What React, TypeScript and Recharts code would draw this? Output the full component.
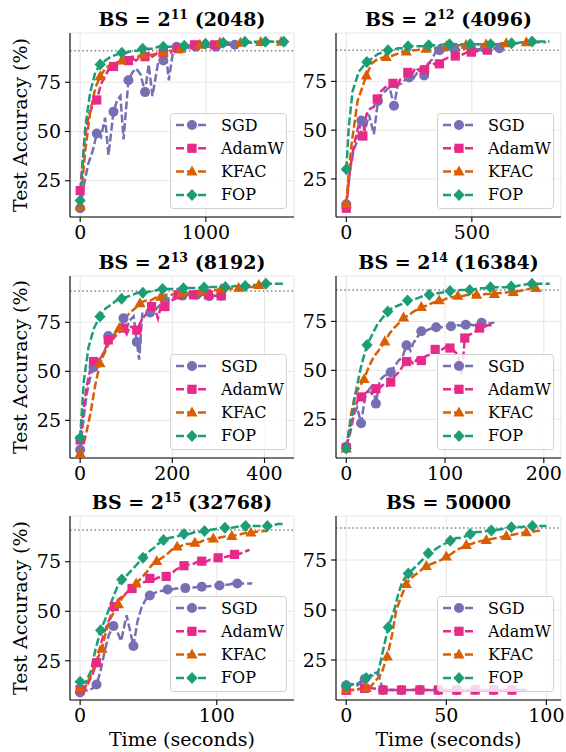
import {
  LineChart,
  Line,
  XAxis,
  YAxis,
  CartesianGrid,
  ReferenceLine,
  Legend,
} from 'recharts'

type Pt = [number, number]
type Method = 'SGD' | 'AdamW' | 'KFAC' | 'FOP'

const METHODS: Method[] = ['SGD', 'AdamW', 'KFAC', 'FOP']

const COLORS: Record<Method, string> = {
  SGD: '#7570b3',
  AdamW: '#e7298a',
  KFAC: '#d95f02',
  FOP: '#1b9e77',
}

const SHAPES: Record<Method, string> = {
  SGD: 'circle',
  AdamW: 'square',
  KFAC: 'triangle',
  FOP: 'diamond',
}

const TARGET_ACC = 91
const MARK_EVERY = 4
const Y_TICKS = [25, 50, 75]
const FONT = '"DejaVu Serif", "Liberation Serif", serif'

// ---- BS = 2^11 (2048) ----
const sgd2048: Pt[] = [
  [0, 11], [33, 24], [66, 34], [99, 40],
  [132, 49], [165, 47], [198, 57], [225, 38],
  [265, 60], [295, 66], [320, 68], [345, 46],
  [384, 76], [415, 80], [445, 82], [480, 79],
  [516, 70], [545, 84], [575, 68], [620, 85],
  [661, 86], [690, 85], [705, 76], [735, 89],
  [767, 93], [800, 92], [840, 93], [880, 92],
  [920, 93], [960, 92], [1000, 93], [1040, 93],
  [1080, 93], [1120, 93], [1160, 94], [1200, 94], [1230, 94],
]
const adamw2048: Pt[] = [
  [0, 20], [33, 45], [66, 58], [99, 63],
  [132, 66], [165, 74], [198, 78], [230, 82],
  [265, 83], [295, 84], [320, 86], [350, 85],
  [384, 86], [415, 87], [445, 86], [480, 88],
  [516, 88], [545, 89], [575, 88], [620, 90],
  [661, 90], [690, 91], [720, 90], [750, 92],
  [780, 92], [810, 93], [840, 93], [870, 94],
  [910, 94], [950, 93.5], [990, 94], [1030, 94],
  [1070, 94], [1110, 94.5], [1150, 94.5], [1190, 94.5],
]
const kfac2048: Pt[] = [
  [0, 12], [40, 40], [80, 60], [120, 72],
  [159, 78], [200, 82], [240, 84], [290, 85],
  [331, 86], [370, 87], [410, 88], [455, 88],
  [497, 89], [540, 89], [580, 89], [620, 90],
  [661, 90], [700, 91], [740, 91], [770, 91],
  [800, 92], [840, 93], [880, 93], [915, 93],
  [952, 94], [990, 94], [1030, 94], [1070, 94],
  [1111, 95], [1150, 95], [1190, 95], [1235, 95],
  [1275, 95], [1315, 95], [1355, 95], [1395, 95],
  [1437, 95.4], [1480, 95.5], [1520, 95.5], [1560, 95.5], [1600, 95.5],
]
const fop2048: Pt[] = [
  [0, 15], [40, 52], [80, 70], [120, 80],
  [159, 84], [200, 86], [245, 88], [290, 89],
  [331, 90], [370, 90], [415, 91], [455, 91],
  [497, 92], [540, 92], [580, 92], [620, 93],
  [661, 93], [700, 93], [745, 93], [785, 93],
  [828, 93.5], [870, 93.5], [910, 94], [955, 94],
  [997, 94.5], [1030, 94.5], [1070, 94.5], [1105, 95],
  [1138, 95], [1180, 95], [1225, 95], [1270, 95],
  [1310, 95.5], [1350, 95.5], [1390, 95.5], [1430, 95.5],
  [1474, 95.5], [1510, 95.5], [1550, 95.5], [1590, 95.5], [1620, 95.5],
]

// ---- BS = 2^12 (4096) ----
const sgd4096: Pt[] = [
  [0, 12], [15, 30], [30, 40], [45, 45],
  [60, 55], [75, 50], [90, 58], [110, 48],
  [126, 65], [140, 68], [155, 70], [172, 72],
  [190, 62.5], [205, 73], [220, 74], [235, 76],
  [250, 77], [265, 76], [280, 79], [295, 82],
  [310, 78], [325, 84], [340, 86], [355, 90],
  [371, 91], [386, 91], [401, 91], [416, 91.5],
  [431, 91.5], [446, 91], [461, 91.5], [476, 92],
  [497, 92], [506, 91], [521, 91.5], [536, 91.5],
  [551, 92], [566, 91], [581, 92], [596, 92], [610, 92],
]
const adamw4096: Pt[] = [
  [0, 10], [15, 30], [30, 42], [48, 52],
  [66, 47], [80, 58], [95, 61], [110, 62],
  [123, 66], [138, 70], [155, 72], [170, 73],
  [186, 74], [200, 72], [215, 76], [230, 77],
  [245, 79.6], [260, 78], [275, 82], [295, 80],
  [312, 81], [327, 84], [342, 85], [357, 83],
  [371, 84], [387, 86], [402, 87], [418, 87],
  [434, 88], [450, 88], [466, 89], [482, 90],
  [498, 90], [514, 90], [530, 91], [546, 91],
  [562, 91], [578, 91.5], [594, 92], [605, 92],
]
const kfac4096: Pt[] = [
  [0, 12], [10, 28], [20, 42], [45, 65],
  [80, 78], [100, 84], [120, 86], [140, 87],
  [159, 87.5], [180, 88], [200, 89], [220, 90],
  [239, 90.3], [259, 91], [279, 91], [298, 91.5],
  [318, 91.7], [338, 92], [358, 92], [378, 92.5],
  [398, 93], [418, 93], [438, 93.5], [458, 93.5],
  [477, 93.7], [497, 94], [517, 94], [537, 94],
  [557, 94], [577, 94], [597, 94], [617, 94.5],
  [637, 94.5], [657, 94.5], [677, 94.5], [697, 95],
  [717, 95], [737, 95], [757, 95], [796, 95],
]
const fop4096: Pt[] = [
  [0, 30], [10, 52], [25, 70], [50, 80],
  [82, 85], [105, 87], [125, 89], [145, 90],
  [166, 91], [186, 91], [206, 92], [226, 92],
  [246, 93], [266, 93], [287, 93], [308, 93],
  [328, 93.5], [349, 93.5], [370, 93.5], [390, 94],
  [411, 94], [432, 94], [452, 94], [472, 94],
  [493, 94], [514, 94], [534, 94], [555, 94],
  [575, 94], [596, 94], [617, 94], [637, 94.5],
  [658, 94.5], [678, 94.5], [699, 95], [719, 95],
  [740, 95.4], [760, 95.4], [780, 95.4], [809, 95.4],
]

// ---- BS = 2^13 (8192) ----
const sgd8192: Pt[] = [
  [0, 10], [7, 25], [14, 38], [21, 46],
  [29, 52], [37, 55], [45, 57], [53, 60],
  [61, 68], [69, 67], [77, 70], [85, 72],
  [94, 77], [101, 72], [108, 76], [116, 78],
  [123, 65], [128, 56], [135, 80], [145, 79],
  [152, 80], [159, 81], [166, 82], [174, 84],
  [184, 86], [191, 87], [198, 87], [206, 88],
  [222, 88.6], [229, 88.6], [237, 89], [245, 89],
  [253, 89], [261, 88.5], [268, 88.5], [275, 88.3],
  [280, 88.3], [287, 88.5], [294, 88.5], [300, 88.5], [306, 88.5],
]
const adamw8192: Pt[] = [
  [0, 15], [7, 30], [14, 42], [21, 50],
  [29, 55], [37, 56], [45, 57], [53, 60],
  [61, 66], [69, 66], [77, 68], [85, 70],
  [94, 72], [101, 69], [108, 73], [116, 72],
  [123, 71], [131, 75], [139, 78], [147, 80],
  [155, 83], [162, 82], [169, 77], [176, 84],
  [184, 83], [191, 85], [198, 86], [206, 87],
  [213, 89], [221, 88], [229, 89], [238, 89],
  [246, 89], [254, 89], [262, 89], [270, 89],
  [278, 89], [286, 88.5], [294, 88.5], [300, 88.5], [306, 88.5],
]
const kfac8192: Pt[] = [
  [0, 8], [10, 15], [22, 28], [32, 42],
  [43, 54], [54, 60], [64, 65], [75, 69],
  [85, 72], [97, 77], [108, 80], [119, 82],
  [130, 84.7], [141, 86], [152, 86], [163, 87.5],
  [175, 88], [187, 89], [198, 89], [210, 89.7],
  [221, 90], [232, 90], [242, 90.5], [253, 91],
  [264, 91], [275, 91], [285, 91.5], [296, 91.5],
  [306, 92], [317, 92], [325, 92], [333, 92.3],
  [344, 92.5], [355, 92.8], [366, 93], [376, 93], [388, 94],
]
const fop8192: Pt[] = [
  [0, 16], [8, 45], [18, 62], [30, 72],
  [43, 78], [55, 82], [67, 84], [78, 86],
  [90, 87], [102, 88], [113, 89], [125, 90],
  [136, 90], [147, 90.5], [158, 91], [168, 91.5],
  [179, 92], [190, 92], [201, 92], [212, 92],
  [224, 92.3], [235, 92.5], [246, 92.5], [257, 92.5],
  [269, 92.8], [280, 93], [292, 93], [303, 93],
  [315, 93], [326, 93], [337, 93.5], [348, 93.5],
  [358, 93.5], [370, 94], [381, 94], [392, 94],
  [403, 94.6], [415, 94.6], [428, 94.6], [442, 94.6],
]

// ---- BS = 2^14 (16384) ----
const sgd16384: Pt[] = [
  [0, 11], [4, 18], [8, 28], [11, 31],
  [15, 23], [19, 36], [23, 40], [27, 43],
  [30, 33], [34, 45], [38, 47], [42, 48],
  [45, 49], [49, 52], [53, 55], [57, 57],
  [61, 62.8], [65, 60], [68, 64], [72, 67],
  [76, 70], [80, 70], [84, 71], [87, 71.5],
  [91, 72], [95, 72], [99, 72], [102, 72.5],
  [106, 72.5], [110, 73], [114, 73], [118, 72.5],
  [121, 73.3], [125, 73.5], [129, 73], [133, 74],
  [137, 74.3], [141, 74], [146, 74], [150, 74.5],
]
const adamw16384: Pt[] = [
  [0, 10.5], [4, 20], [8, 30], [11, 34],
  [15, 36.4], [19, 38], [23, 40], [26, 38],
  [30, 40.6], [34, 41], [38, 43], [41, 42],
  [45, 44], [49, 47], [53, 49], [57, 52],
  [61, 54.5], [65, 55], [68, 53], [72, 56],
  [76, 55], [80, 57], [84, 58], [87, 59],
  [90, 60.7], [94, 60], [98, 61], [101, 62],
  [105, 61.4], [109, 60], [113, 58], [117, 48],
  [120, 66.5], [124, 68], [128, 69], [131, 70],
  [135, 71.6], [139, 72], [143, 73], [148, 73],
]
const kfac16384: Pt[] = [
  [0, 10], [5, 28], [9, 38], [14, 42],
  [18, 45.5], [23, 52], [28, 57], [34, 61],
  [39, 64.7], [44, 69], [49, 72], [53, 74],
  [58, 77], [63, 78], [68, 80], [72, 81],
  [76, 82.3], [81, 83], [85, 84], [90, 85],
  [94, 85.7], [99, 86], [103, 87], [108, 87.5],
  [113, 88], [118, 88], [122, 88.5], [127, 88.5],
  [132, 88.6], [137, 88.5], [141, 89], [146, 89],
  [150, 89], [155, 89.5], [160, 89.5], [164, 90],
  [169, 90], [175, 90.5], [181, 91], [187, 92], [192, 92],
]
const fop16384: Pt[] = [
  [0, 10], [5, 25], [10, 40], [15, 52],
  [21, 63], [26, 68], [31, 73], [37, 77],
  [42, 80], [47, 82], [52, 83], [57, 84],
  [62, 85.7], [68, 86], [73, 87], [78, 88],
  [84, 88.6], [89, 89], [94, 89.5], [100, 90],
  [105, 90.5], [110, 90.5], [115, 91], [120, 91],
  [125, 91], [130, 91.5], [136, 92], [141, 92],
  [146, 92.5], [151, 92.5], [157, 92.5], [162, 92.5],
  [167, 92.8], [172, 93], [177, 93.5], [183, 94],
  [188, 94.2], [193, 94.2], [198, 94.2], [206, 94.2],
]

// ---- BS = 2^15 (32768) ----
const sgd32768: Pt[] = [
  [0, 9], [3, 10], [6, 10], [9, 11],
  [12, 13], [15, 20], [18, 30], [21, 38],
  [24.4, 42.6], [27, 40], [30, 35], [34, 48],
  [39, 32.5], [42, 45], [45, 52], [48, 56],
  [51, 58], [54, 59], [57, 60], [61, 60.5],
  [64, 61], [67, 61], [70, 61.5], [74, 61.5],
  [77, 61.7], [80, 62], [83, 62], [86, 62.2],
  [89, 62.4], [92, 62.5], [96, 62.7], [99, 63],
  [102, 63], [105, 63.3], [109, 63.5], [112, 64],
  [115, 64], [118, 64], [122, 64], [126, 64],
]
const adamw32768: Pt[] = [
  [0, 10.4], [3, 10], [6, 14], [9, 18],
  [12, 24], [15, 33], [18, 40], [22, 47],
  [25, 52.4], [28, 56], [32, 58], [35, 60],
  [38, 61.5], [41, 63], [44, 64], [48, 65],
  [51, 66.6], [54, 66], [57, 67], [60, 67],
  [63, 67.6], [67, 69], [70, 71], [73, 72],
  [76, 73], [79, 73.5], [83, 74], [86, 75],
  [89, 75.3], [92, 75], [95, 76], [98, 76],
  [101, 77], [104, 77], [107, 77.5], [110, 78],
  [113, 78.7], [117, 79], [120, 80], [124, 81],
]
const kfac32768: Pt[] = [
  [0, 11], [4, 12], [8, 18], [12, 25],
  [16, 31], [19, 40], [22, 46], [25, 50],
  [28, 53.5], [31, 57], [35, 60], [38, 62],
  [41, 64], [45, 67], [49, 70], [52, 73],
  [56, 75.3], [60, 77], [64, 79], [67, 81],
  [71, 82.6], [74, 83], [78, 84], [81, 84],
  [84, 84.6], [88, 85], [91, 86], [94, 86.5],
  [97.5, 86.7], [101, 87], [104, 87.5], [108, 88],
  [111, 88], [115, 88.5], [118, 89], [121, 89.5],
  [125, 89.7], [128, 90], [131, 90.3], [137, 90.5],
]
const fop32768: Pt[] = [
  [0, 14.4], [4, 14], [8, 20], [11, 30],
  [15, 40.4], [19, 47], [23, 55], [27, 62],
  [30.5, 66], [34, 68], [38, 71], [42, 74],
  [46, 77], [50, 80], [54, 82], [57, 84],
  [61, 86], [65, 87], [69, 87.5], [72, 88],
  [76, 89], [80, 89], [84, 90], [87, 90],
  [91, 90.5], [95, 91], [99, 91.5], [102, 92],
  [106, 92.2], [110, 92], [114, 92.5], [118, 93],
  [121, 93], [125, 93], [129, 93], [133, 93],
  [137, 93], [141, 93.5], [145, 94], [149, 94],
]

// ---- BS = 50000 ----
const sgd50000: Pt[] = [
  [0, 12.4], [2.3, 13], [4.6, 12.5], [6.9, 14],
  [9.2, 15.5], [11.5, 16.5], [13.8, 17.5], [16, 18],
  [18.4, 10], [20.7, 10], [23, 10.1], [25.3, 10],
  [27.6, 9.9], [29.9, 10], [32.2, 10], [34.5, 10.1],
  [36.8, 10], [39.1, 10], [41.4, 9.9], [43.7, 10],
  [46, 10], [48.3, 10.1], [50.6, 10], [52.9, 10],
  [55.2, 9.9], [57.5, 10], [59.8, 10], [62.1, 10],
  [64.4, 10.1], [66.7, 10], [69, 10], [71.3, 9.9],
  [73.6, 10], [75.9, 10], [78.2, 10], [80.5, 10.1],
  [82.8, 10], [85.1, 10], [87.4, 10], [90, 10],
]
const adamw50000: Pt[] = [
  [0, 9.8], [2.3, 10], [4.6, 10], [6.9, 10.5],
  [9.2, 10.8], [11.5, 11], [13.8, 10.8], [16, 10.5],
  [18.4, 10], [20.7, 10], [23, 10], [25.3, 10],
  [27.6, 10], [29.9, 10], [32.2, 10], [34.5, 10],
  [36.8, 10], [39.1, 10], [41.4, 10], [43.7, 10],
  [46, 10], [48.3, 10], [50.6, 10], [52.9, 10],
  [55.2, 10], [57.5, 10], [59.8, 10], [62.1, 10],
  [64.4, 10], [66.7, 10], [69, 10], [71.3, 10],
  [73.6, 10], [75.9, 10], [78.2, 10], [80.5, 10],
  [82.8, 10], [85.1, 10], [87.4, 10], [90, 10],
]
const kfac50000: Pt[] = [
  [0, 10], [2.5, 10], [5, 10], [7.5, 11],
  [10, 11], [12.5, 12], [15, 15], [17.5, 18],
  [20.5, 26.7], [23, 38], [25, 50], [28, 58],
  [30, 63], [32.5, 66], [35, 68], [37.5, 70],
  [40, 72], [42.5, 73], [45, 74], [47.5, 75],
  [50, 76.7], [52.5, 78], [55, 80], [57.5, 81],
  [60, 82.5], [62.5, 83], [65, 84], [67.5, 84.5],
  [70, 85], [72.5, 85.5], [75, 86], [77.5, 86.5],
  [80, 87], [82.5, 87.5], [85, 88], [87.5, 88.5],
  [90, 88.8], [92.5, 89], [95, 89.5], [98, 89.8],
]
const fop50000: Pt[] = [
  [0, 12], [3, 13], [5, 12], [8, 14],
  [10, 16], [13, 18], [16, 19], [18, 28],
  [21, 41.4], [24, 50], [26, 58], [28, 64],
  [31, 68.3], [33, 70], [36, 73], [39, 76],
  [41, 78.4], [44, 80], [47, 82], [49, 83],
  [52, 84.6], [55, 86], [57, 86], [60, 87],
  [62, 88], [65, 89], [67, 89], [70, 89.5],
  [72.5, 89.8], [75, 90], [78, 90.5], [80, 91],
  [82.5, 91.4], [85, 91.5], [88, 91.5], [90, 92],
  [93, 92], [95, 92], [98, 92], [100, 92],
]

interface Panel {
  title: string
  exp?: string
  size?: string
  series: Record<Method, Pt[]>
  xTicks: number[]
  xDomain: [number, number]
  yDomain: [number, number]
  plot: { left: number; top: number; right: number; bottom: number }
  xLabel: boolean
  yLabel: boolean
}

const PANELS: Panel[] = [
  {
    title: 'BS = 2', exp: '11', size: ' (2048)',
    series: { SGD: sgd2048, AdamW: adamw2048, KFAC: kfac2048, FOP: fop2048 },
    xTicks: [0, 1000], xDomain: [-81, 1701], yDomain: [6.6, 100],
    plot: { left: 70, top: 33, right: 294, bottom: 217 }, xLabel: false, yLabel: true,
  },
  {
    title: 'BS = 2', exp: '12', size: ' (4096)',
    series: { SGD: sgd4096, AdamW: adamw4096, KFAC: kfac4096, FOP: fop4096 },
    xTicks: [0, 500], xDomain: [-41, 855], yDomain: [5.5, 99.8],
    plot: { left: 336, top: 33, right: 561, bottom: 217 }, xLabel: false, yLabel: false,
  },
  {
    title: 'BS = 2', exp: '13', size: ' (8192)',
    series: { SGD: sgd8192, AdamW: adamw8192, KFAC: kfac8192, FOP: fop8192 },
    xTicks: [0, 200, 400], xDomain: [-22, 464], yDomain: [5.8, 98.6],
    plot: { left: 70, top: 276, right: 294, bottom: 458 }, xLabel: false, yLabel: true,
  },
  {
    title: 'BS = 2', exp: '14', size: ' (16384)',
    series: { SGD: sgd16384, AdamW: adamw16384, KFAC: kfac16384, FOP: fop16384 },
    xTicks: [0, 100, 200], xDomain: [-10.4, 217.4], yDomain: [5.2, 98.2],
    plot: { left: 336, top: 276, right: 561, bottom: 458 }, xLabel: false, yLabel: false,
  },
  {
    title: 'BS = 2', exp: '15', size: ' (32768)',
    series: { SGD: sgd32768, AdamW: adamw32768, KFAC: kfac32768, FOP: fop32768 },
    xTicks: [0, 100], xDomain: [-7.4, 156.5], yDomain: [5.2, 98.1],
    plot: { left: 70, top: 516, right: 294, bottom: 700 }, xLabel: true, yLabel: true,
  },
  {
    title: 'BS = 50000',
    series: { SGD: sgd50000, AdamW: adamw50000, KFAC: kfac50000, FOP: fop50000 },
    xTicks: [0, 50, 100], xDomain: [-5.1, 107.3], yDomain: [5, 97],
    plot: { left: 336, top: 516, right: 561, bottom: 700 }, xLabel: true, yLabel: false,
  },
]

const Y_AXIS_W = 50
const TOP_PAD = 10
const RIGHT_PAD = 6
const X_AXIS_H = 34
const LEGEND_W = 117
const LEGEND_H = 96
const LINE_W = 2.5

function Marker({ shape, x, y, color }: { shape: string; x: number; y: number; color: string }) {
  if (shape === 'circle') return <circle cx={x} cy={y} r={5} fill={color} />
  if (shape === 'square') return <rect x={x - 4.6} y={y - 4.6} width={9.2} height={9.2} fill={color} />
  if (shape === 'triangle')
    return <polygon points={`${x},${y - 6} ${x - 5.6},${y + 3.9} ${x + 5.6},${y + 3.9}`} fill={color} />
  return <polygon points={`${x},${y - 6} ${x + 5.6},${y} ${x},${y + 6} ${x - 5.6},${y}`} fill={color} />
}

function markerDot(m: Method) {
  return (props: any) => {
    const { cx, cy, index } = props
    if (index % MARK_EVERY !== 0 || cx == null || cy == null) return <g key={`d-${m}-${index}`} />
    return (
      <g key={`d-${m}-${index}`}>
        <Marker shape={SHAPES[m]} x={cx} y={cy} color={COLORS[m]} />
      </g>
    )
  }
}

function LegendBox() {
  return (
    <svg width={LEGEND_W} height={LEGEND_H} style={{ display: 'block' }}>
      <rect
        x={0.5}
        y={0.5}
        width={LEGEND_W - 1}
        height={LEGEND_H - 1}
        rx={3}
        fill="rgba(255,255,255,0.8)"
        stroke="#d0d0d0"
      />
      {METHODS.map((m, i) => {
        const cy = 12 + i * 23.3
        return (
          <g key={m}>
            <line x1={6} x2={38} y1={cy} y2={cy} stroke={COLORS[m]} strokeWidth={LINE_W} strokeDasharray="8 3" />
            <Marker shape={SHAPES[m]} x={22} y={cy} color={COLORS[m]} />
            <text x={51} y={cy + 5.5} fontSize={16} fontFamily={FONT} fill="#000">
              {m}
            </text>
          </g>
        )
      })}
    </svg>
  )
}

function PanelChart({ p }: { p: Panel }) {
  const plotW = p.plot.right - p.plot.left
  const plotH = p.plot.bottom - p.plot.top
  const width = Y_AXIS_W + plotW + RIGHT_PAD
  const height = TOP_PAD + plotH + X_AXIS_H
  const tickStyle = { fill: '#000', fontSize: 19, fontFamily: FONT }
  return (
    <div style={{ position: 'absolute', left: p.plot.left - Y_AXIS_W, top: p.plot.top - TOP_PAD }}>
      <LineChart width={width} height={height} margin={{ top: TOP_PAD, right: RIGHT_PAD, bottom: 0, left: 0 }}>
        <CartesianGrid stroke="#e6e6e6" strokeWidth={1} />
        <XAxis
          type="number"
          dataKey="t"
          domain={p.xDomain}
          ticks={p.xTicks}
          allowDataOverflow
          height={X_AXIS_H}
          tick={tickStyle}
          tickSize={5}
          tickMargin={4}
          axisLine={{ stroke: '#000', strokeWidth: 1.1 }}
          tickLine={{ stroke: '#000', strokeWidth: 1.1 }}
        />
        <YAxis
          type="number"
          domain={p.yDomain}
          ticks={Y_TICKS}
          allowDataOverflow
          width={Y_AXIS_W}
          tick={tickStyle}
          tickSize={5}
          tickMargin={4}
          axisLine={{ stroke: '#000', strokeWidth: 1.1 }}
          tickLine={{ stroke: '#000', strokeWidth: 1.1 }}
        />
        <ReferenceLine y={TARGET_ACC} stroke="#808080" strokeWidth={1.5} strokeDasharray="1.5 2.6" />
        {METHODS.map((m) => (
          <Line
            key={m}
            name={m}
            type="linear"
            data={p.series[m].map(([t, y]) => ({ t, y }))}
            dataKey="y"
            stroke={COLORS[m]}
            strokeWidth={LINE_W}
            strokeDasharray="8 3"
            dot={markerDot(m)}
            activeDot={false}
            isAnimationActive={false}
          />
        ))}
        <Legend
          layout="vertical"
          align="center"
          verticalAlign="middle"
          content={() => <LegendBox />}
          wrapperStyle={{
            left: Y_AXIS_W + plotW - 7.5 - LEGEND_W,
            top: TOP_PAD + plotH - 8 - LEGEND_H,
            width: LEGEND_W,
            height: LEGEND_H,
            right: 'auto',
            bottom: 'auto',
          }}
        />
      </LineChart>
    </div>
  )
}

export default function App() {
  return (
    <div style={{ position: 'relative', width: 566, height: 752, background: '#fff', overflow: 'hidden' }}>
      <style>{`body { margin: 0; }`}</style>
      {PANELS.map((p, i) => (
        <PanelChart key={i} p={p} />
      ))}
      <svg
        width={566}
        height={752}
        style={{ position: 'absolute', left: 0, top: 0, pointerEvents: 'none' }}
        fontFamily={FONT}
      >
        {PANELS.map((p, i) => {
          const cx = (p.plot.left + p.plot.right) / 2
          const cy = (p.plot.top + p.plot.bottom) / 2
          return (
            <g key={i}>
              <text x={cx} y={p.plot.top - 7} textAnchor="middle" fontSize={19} fontWeight="bold" fill="#000">
                {p.title}
                {p.exp && (
                  <tspan fontSize={12.5} dy={-7.5}>
                    {p.exp}
                  </tspan>
                )}
                {p.size && <tspan dy={7.5}>{p.size}</tspan>}
              </text>
              {p.yLabel && (
                <text
                  transform={`translate(27, ${cy}) rotate(-90)`}
                  textAnchor="middle"
                  fontSize={19}
                  fill="#000"
                >
                  Test Accuracy (%)
                </text>
              )}
              {p.xLabel && (
                <text x={cx} y={746} textAnchor="middle" fontSize={19} fill="#000">
                  Time (seconds)
                </text>
              )}
            </g>
          )
        })}
      </svg>
    </div>
  )
}
